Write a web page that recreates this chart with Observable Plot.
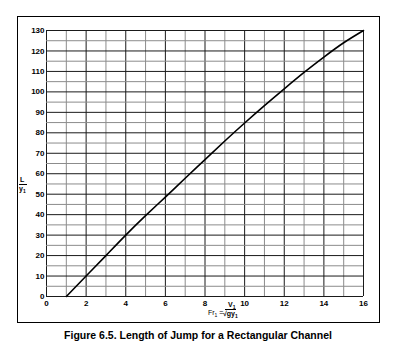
<!DOCTYPE html>
<html><head><meta charset="utf-8">
<script src="https://cdn.jsdelivr.net/npm/d3@7"></script>
<script src="https://cdn.jsdelivr.net/npm/@observablehq/plot@0.6"></script>
<style>
body{margin:0;background:#fff;font-family:"Liberation Sans",Arial,sans-serif;}
#wrap{position:relative;width:403px;height:357px;}
#box{position:absolute;left:17px;top:16px;width:361px;height:305px;border:1px solid #000;}
#chart{position:absolute;left:0;top:0;}
.lbl{position:absolute;font-size:7px;color:#000;line-height:1;white-space:nowrap;}
#caption{position:absolute;left:0;width:396px;top:329px;text-align:center;font-size:10.5px;font-weight:bold;}
</style></head>
<body><div id="wrap"><div id="box"></div><div id="chart"></div>
<div class="lbl" style="left:20px;top:176px;font-weight:bold;">L</div>
<div style="position:absolute;left:19px;top:184px;width:8px;border-top:1px solid #000;"></div>
<div class="lbl" style="left:19px;top:185px;font-weight:bold;">y<sub style="font-size:5px">1</sub></div>
<div class="lbl" style="left:208px;top:309px;">Fr<sub style="font-size:5px">1</sub> =</div>
<div class="lbl" style="left:228px;top:301px;font-weight:bold;">V<sub style="font-size:5px">1</sub></div>
<div style="position:absolute;left:225px;top:309px;width:11px;border-top:1px solid #000;"></div>
<div class="lbl" style="left:223px;top:310px;font-weight:bold;">√gy<sub style="font-size:5px">1</sub></div>
<div id="caption">Figure 6.5. Length of Jump for a Rectangular Channel</div>
</div>
<script>
const froude = [1, 2, 3, 4, 5, 6, 7, 8, 9, 10, 11, 12, 13, 14, 15, 16];
const jumpRatio = [0, 10, 20, 30, 39.5, 48.6, 57.8, 66.9, 76, 84.8, 93.3, 101.5, 109.5, 117, 124, 130];
const xTicks = [0, 2, 4, 6, 8, 10, 12, 14, 16];
const yTicks = [0, 10, 20, 30, 40, 50, 60, 70, 80, 90, 100, 110, 120, 130];
const xGrid = d3.range(0, 17, 1);
const yGrid = d3.range(0, 131, 5);

const curve = froude.map((f, i) => ({f, r: jumpRatio[i]}));

const plot = Plot.plot({
  width: 403, height: 357,
  marginLeft: 46, marginRight: 40, marginTop: 30, marginBottom: 61,
  x: {domain: [0, 16], label: null},
  y: {domain: [0, 130], label: null},
  style: {fontFamily: "'Liberation Sans', Arial, sans-serif", background: "transparent"},
  marks: [
    Plot.ruleX(xGrid, {x: d => d, stroke: d => (d % 2 === 1 ? "#8c8c8c" : "#1a1a1a"), strokeWidth: 1}),
    Plot.ruleY(yGrid, {y: d => d, stroke: d => (d % 10 === 5 ? "#8c8c8c" : "#1a1a1a"), strokeWidth: 1}),
    Plot.axisX({ticks: xTicks, tickSize: 0, tickPadding: 4, fontSize: 8, fontWeight: "bold", label: null}),
    Plot.axisY({ticks: yTicks, tickSize: 0, tickPadding: 2, fontSize: 8, fontWeight: "bold", label: null}),
    Plot.line(curve, {x: "f", y: "r", stroke: "#000", strokeWidth: 1.6, curve: "natural"})
  ]
});
plot.style.color = "#000";
document.getElementById("chart").appendChild(plot);
</script>
</body></html>
